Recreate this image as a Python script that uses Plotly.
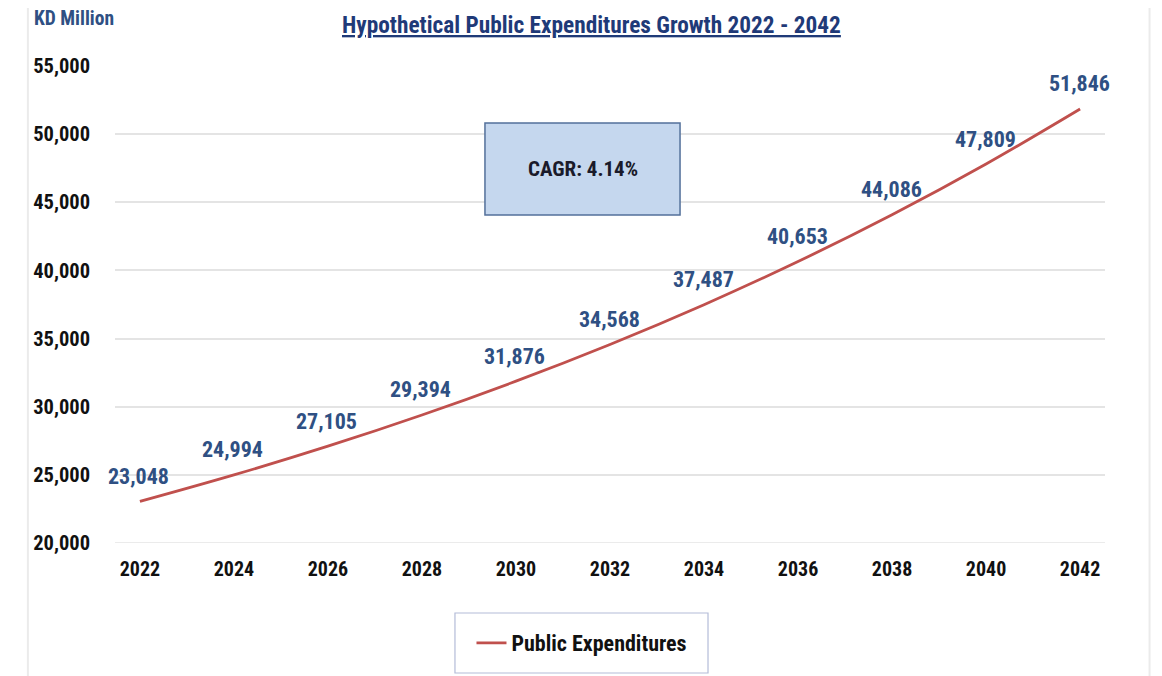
import plotly.graph_objects as go

YEARS = [2022, 2024, 2026, 2028, 2030, 2032, 2034, 2036, 2038, 2040, 2042]
EXPENDITURES = [23048, 24994, 27105, 29394, 31876, 34568, 37487, 40653, 44086, 47809, 51846]
Y_TICKS = [20000, 25000, 30000, 35000, 40000, 45000, 50000, 55000]

TITLE = 'Hypothetical Public Expenditures Growth 2022 - 2042'
UNIT = 'KD Million'
CAGR_TEXT = 'CAGR: 4.14%'
SERIES_NAME = 'Public Expenditures'

FONT = 'Liberation Sans Narrow, Roboto Condensed, Arial Narrow, Liberation Sans, sans-serif'
LINE_RED = '#C0504D'
LABEL_BLUE = '#2F5083'
GRID = '#E4E4E4'


def get_figure() -> go.Figure:
    fig = go.Figure(
        go.Scatter(
            x=YEARS,
            y=EXPENDITURES,
            name=SERIES_NAME,
            mode='lines',
            line=dict(color=LINE_RED, width=2.8, shape='spline'),
            hovertemplate='%{x}: %{y:,}<extra></extra>',
        )
    )

    # value labels above the points
    for year, value in zip(YEARS, EXPENDITURES):
        fig.add_annotation(
            x=year, y=value, xref='x', yref='y',
            text=f'<b>{value:,}</b>', showarrow=False,
            yanchor='middle', xanchor='center', yshift=25, xshift=-1,
            font=dict(family=FONT, size=22, color=LABEL_BLUE),
        )

    # page body adds 8px, so the figure is 8px smaller than the window
    fig.update_layout(
        width=1154,
        height=668,
        margin=dict(l=107, r=57, t=58, b=133, autoexpand=False),
        paper_bgcolor='white',
        plot_bgcolor='white',
        font=dict(family=FONT, color='#111111'),
        showlegend=True,
        legend=dict(
            orientation='h',
            x=0.4717,
            xanchor='center',
            y=-0.2096,
            yanchor='middle',
            borderwidth=0,
            bgcolor='rgba(0,0,0,0)',
            font=dict(family=FONT, size=22, color='#111111', weight='bold'),
            itemwidth=30,
        ),
        xaxis=dict(
            range=[2021.47, 2042.53],
            tickvals=YEARS,
            ticktext=[str(y) for y in YEARS],
            showgrid=False,
            zeroline=False,
            showline=False,
            ticklabelstandoff=12,
            tickfont=dict(family=FONT, size=20, color='#111111', weight='bold'),
        ),
        yaxis=dict(
            range=[20000, 55000],
            tickvals=Y_TICKS,
            tickformat=',',
            showgrid=True,
            gridcolor=GRID,
            gridwidth=1.5,
            zeroline=False,
            showline=False,
            ticklabelstandoff=24,
            tickfont=dict(family=FONT, size=20.5, color='#111111', weight='bold'),
        ),
    )

    # bottom gridline at 20,000
    fig.add_shape(
        type='line', xref='paper', yref='y', x0=0, x1=1, y0=20000, y1=20000,
        line=dict(color=GRID, width=1.5), layer='below',
    )

    # faint outer chart border
    fig.add_shape(
        type='rect', xref='paper', yref='paper',
        x0=-0.088, x1=1.045, y0=-0.35, y1=1.128,
        line=dict(color='#EBEBEB', width=2),
    )

    # legend frame
    fig.add_shape(
        type='rect', xref='paper', yref='paper',
        x0=0.3434, x1=0.599, y0=-0.2725, y1=-0.1468,
        line=dict(color='#B4BCD8', width=1.2),
    )

    # CAGR box
    fig.add_shape(
        type='rect', xref='x', yref='y',
        x0=2029.34, x1=2033.49, y0=44070, y1=50820,
        fillcolor='#C5D7EE', line=dict(color='#53709A', width=1.5),
    )
    fig.add_annotation(
        x=(2029.34 + 2033.49) / 2, y=(44070 + 50820) / 2, xref='x', yref='y',
        text=f'<b>{CAGR_TEXT}</b>', showarrow=False,
        font=dict(family=FONT, size=21, color='#1A1A2A'),
    )

    # title
    fig.add_annotation(
        x=0.481, y=1.086, xref='paper', yref='paper',
        text=f'<b><u>{TITLE}</u></b>', showarrow=False,
        xanchor='center', yanchor='middle',
        font=dict(family=FONT, size=23.3, color='#1F3A78'),
    )

    # unit label
    fig.add_annotation(
        x=-0.0838, y=1.1006, xref='paper', yref='paper',
        text=f'<b>{UNIT}</b>', showarrow=False,
        xanchor='left', yanchor='middle',
        font=dict(family=FONT, size=19.5, color='#2F5083'),
    )
    return fig


fig = get_figure()
fig.write_html('out.html')
